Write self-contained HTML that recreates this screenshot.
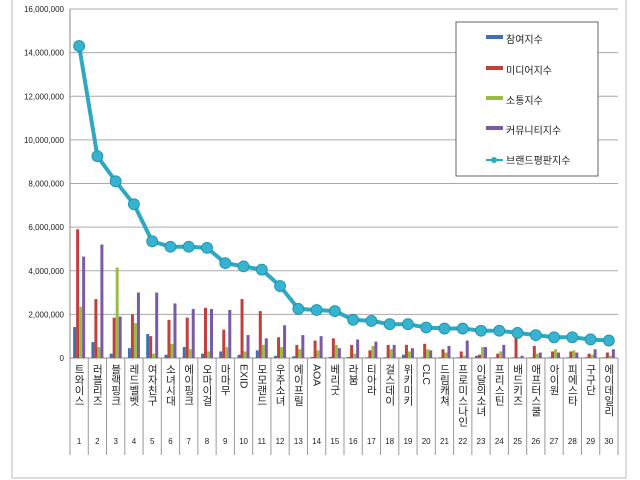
<!DOCTYPE html>
<html><head><meta charset="utf-8"><style>
body{margin:0;background:#fff;}
svg{display:block;font-family:"Liberation Sans","Noto Sans CJK KR",sans-serif;}
</style></head><body>
<svg id="c" width="640" height="480" xmlns="http://www.w3.org/2000/svg">
<rect x="12" y="-2" width="614" height="480" fill="none" stroke="#bbb"/>
<g id="grid"></g><g id="bars"></g><g id="cats"></g><g id="line"></g>
<g>
<rect x="456" y="22" width="142" height="154" fill="#fff" stroke="#666"/>
<rect x="486" y="35" width="17" height="4" fill="#3f6fb5"/>
<text x="506" y="43" font-size="10" fill="#222">참여지수</text>
<rect x="486" y="66" width="17" height="4" fill="#c0403c"/>
<text x="506" y="74" font-size="10" fill="#222">미디어지수</text>
<rect x="486" y="96" width="17" height="4" fill="#9bbb45"/>
<text x="506" y="104" font-size="10" fill="#222">소통지수</text>
<rect x="486" y="126" width="17" height="4" fill="#7a5aa6"/>
<text x="506" y="134" font-size="10" fill="#222">커뮤니티지수</text>
<line x1="486" y1="160" x2="503" y2="160" stroke="#2fa8c2" stroke-width="2"/>
<circle cx="494" cy="160" r="3" fill="#2fa8c2"/>
<text x="506" y="164" font-size="10" fill="#222">브랜드평판지수</text>
</g>
</svg>
<script>
const categories=["트와이스","러블리즈","블랙핑크","레드벨벳","여자친구","소녀시대","에이핑크","오마이걸","마마무","EXID","모모랜드","우주소녀","에이프릴","AOA","베리굿","라붐","티아라","걸스데이","위키미키","CLC","드림캐쳐","프로미스나인","이달의소녀","프리스틴","배드키즈","애프터스쿨","아이원","피에스타","구구단","에이데일리"];
const participation=[1.42,0.73,0.2,0.45,1.1,0.15,0.5,0.2,0.3,0.15,0.35,0.1,0.08,0.05,0.05,0.05,0.03,0.03,0.15,0.03,0.03,0.03,0.1,0.03,0.03,0.03,0.03,0.03,0.03,0.03];
const media=[5.9,2.7,1.85,2.0,1.0,1.75,1.85,2.3,1.3,2.7,2.15,0.95,0.6,0.8,0.9,0.6,0.35,0.6,0.6,0.65,0.4,0.3,0.15,0.2,1.25,0.55,0.3,0.3,0.2,0.25];
const communication=[2.35,0.5,4.15,1.6,0.2,0.65,0.4,0.3,0.5,0.3,0.6,0.5,0.4,0.35,0.6,0.2,0.55,0.4,0.3,0.4,0.25,0.1,0.5,0.3,0.05,0.2,0.4,0.35,0.15,0.1];
const community=[4.65,5.2,1.9,3.0,3.0,2.5,2.25,2.25,2.2,1.05,0.9,1.5,1.05,1.0,0.45,0.85,0.75,0.6,0.45,0.35,0.55,0.8,0.5,0.6,0.1,0.25,0.25,0.25,0.4,0.4];
const brand=[14.3,9.25,8.1,7.05,5.35,5.1,5.1,5.05,4.35,4.2,4.05,3.3,2.25,2.2,2.15,1.75,1.7,1.55,1.55,1.4,1.35,1.35,1.25,1.25,1.15,1.05,0.95,0.95,0.85,0.8];
const yTicks=[0,2,4,6,8,10,12,14,16];
const yTickLabels=["0","2,000,000","4,000,000","6,000,000","8,000,000","10,000,000","12,000,000","14,000,000","16,000,000"];
const NS="http://www.w3.org/2000/svg";
const L=70,R=618,T=9,B=358;
const cw=(R-L)/categories.length;
const y=v=>B-(v/16)*(B-T);
const xc=i=>L+cw*(i+0.5);
function mk(tag,attrs,parent){const e=document.createElementNS(NS,tag);for(const k in attrs)e.setAttribute(k,attrs[k]);document.getElementById(parent).appendChild(e);return e;}
yTicks.forEach((t,i)=>{
 const g=mk("line",{x1:L,x2:R,y1:y(t),y2:y(t),stroke:i===0?"#888":"#aaa","stroke-width":1},"grid");
 
 
 const tx=mk("text",{x:64,y:y(t)+3,"text-anchor":"end","font-size":8,fill:"#222"},"grid");
 tx.textContent=yTickLabels[i];
 
 
});
const ax=mk("line",{x1:L,x2:L,y1:T,y2:B,stroke:"#888"},"grid");


const series=[[participation,"#3f6fb5","participation"],[media,"#c0403c","media"],[communication,"#9bbb45","communication"],[community,"#7a5aa6","community"]];
categories.forEach((c,i)=>{
 series.forEach((s,j)=>{
  const v=s[0][i];
  const b=mk("rect",{x:xc(i)-6+j*3,y:y(v),width:3,height:B-y(v),fill:s[1]},"bars");
  
  
 });
 const ln=mk("line",{x1:L+cw*(i+1),x2:L+cw*(i+1),y1:B,y2:455,stroke:"#999"},"cats");
 
 
 const lb=mk("text",{x:xc(i),y:364,"font-size":10.5,fill:"#222","writing-mode":"tb","glyph-orientation-vertical":0,style:"writing-mode:vertical-rl;letter-spacing:0px"},"cats");
 lb.textContent=c;
 
 
 const nb=mk("text",{x:xc(i),y:444,"font-size":8,"text-anchor":"middle",fill:"#222"},"cats");
 nb.textContent=String(i+1);
 
 
});
const first=mk("line",{x1:L,x2:L,y1:B,y2:455,stroke:"#999"},"cats");


const pl=mk("polyline",{points:brand.map((v,i)=>xc(i)+","+y(v)).join(" "),fill:"none",stroke:"#2fa8c2","stroke-width":4},"line");


brand.forEach((v,i)=>{
 const p=mk("circle",{cx:xc(i),cy:y(v),r:5.5,fill:"#35b3cf",stroke:"#1d8ea8","stroke-width":0.8},"line");
 
 
});
</script>
</body></html>
